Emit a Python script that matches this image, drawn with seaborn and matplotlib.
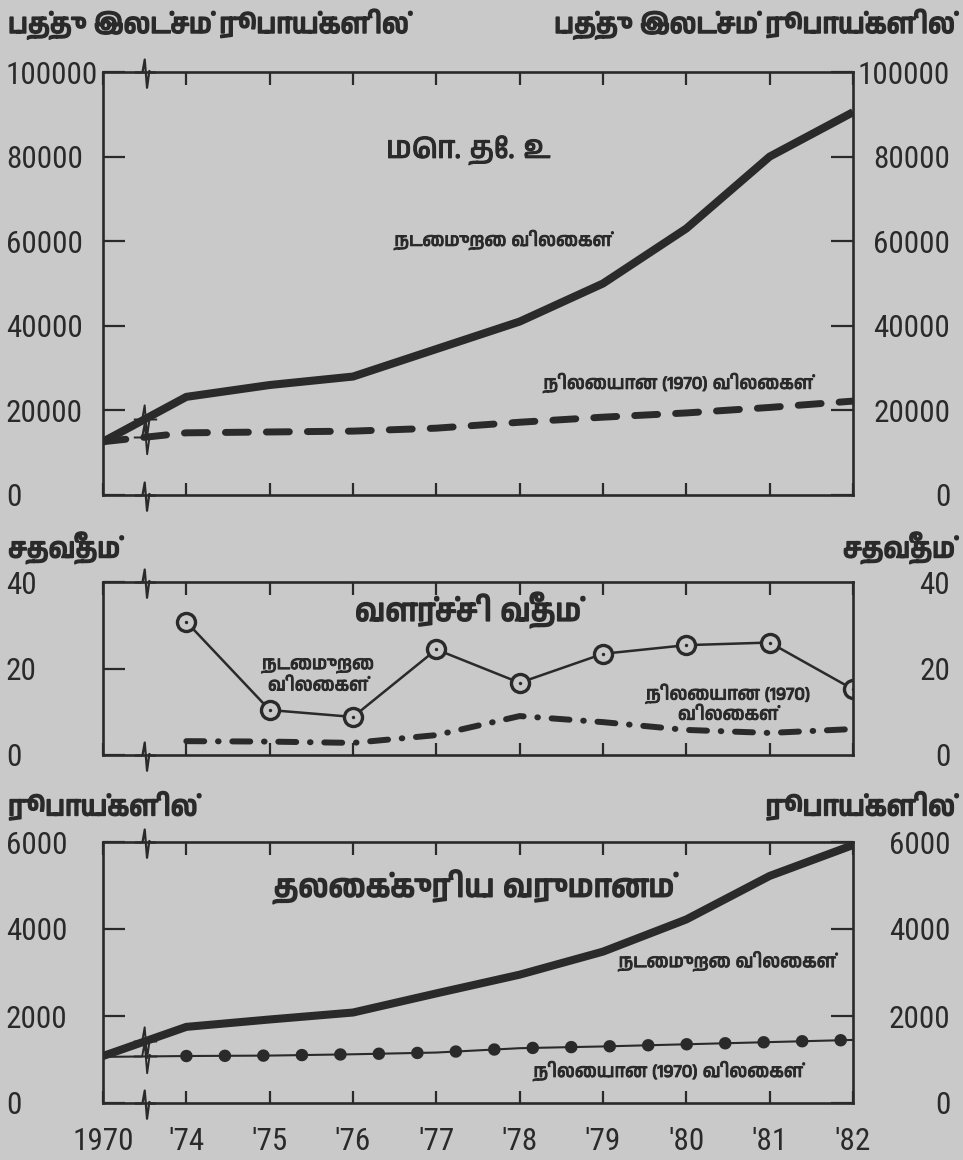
import numpy as np
import pandas as pd
import matplotlib
matplotlib.use("Agg")
import matplotlib.pyplot as plt
import matplotlib.transforms as mtransforms
import matplotlib.patheffects as pe
from matplotlib import font_manager as fm
from matplotlib.font_manager import FontProperties
from matplotlib.textpath import TextPath
from matplotlib.ft2font import FT2Font
from matplotlib.path import Path
from matplotlib.markers import MarkerStyle
import seaborn as sns

# ---------------- data ----------------
positions = list(range(10))
year_labels = ["1970", "'74", "'75", "'76", "'77", "'78", "'79", "'80", "'81", "'82"]

gdp_current = [12600, 23200, 26000, 28000, 34500, 41000, 50000, 63000, 80000, 90500]
gdp_constant = [12600, 14700, 14900, 15100, 15800, 17200, 18400, 19400, 20700, 22200]

growth_positions = list(range(1, 10))
growth_current = [30.8, 10.4, 8.8, 24.4, 16.7, 23.4, 25.4, 26.0, 15.2]
growth_constant = [3.2, 3.1, 2.8, 4.6, 9.0, 7.6, 5.8, 5.1, 6.0]

percap_current = [1080, 1750, 1920, 2080, 2520, 2950, 3480, 4220, 5220, 5930]
percap_constant = [1060, 1080, 1090, 1120, 1160, 1260, 1300, 1350, 1400, 1450]

gdp_ticks = [0, 20000, 40000, 60000, 80000, 100000]
growth_ticks = [0, 20, 40]
percap_ticks = [0, 2000, 4000, 6000]

# ---------------- text ----------------
unit_gdp = "பத்து இலட்சம் ரூபாய்களில்"
unit_pct = "சதவீதம்"
unit_rs = "ரூபாய்களில்"
title_gdp = "மொ. தே. உ"
title_growth = "வளர்ச்சி வீதம்"
title_percap = "தலைக்குரிய வருமானம்"
lbl_current = "நடைமுறை விலைகள்"
lbl_constant = "நிலையான (1970) விலைகள்"
lbl_current2 = "நடைமுறை\nவிலைகள்"
lbl_constant2 = "நிலையான (1970)\nவிலைகள்"

# ---------------- style ----------------
sns.set_theme(style="white")
BG = "#c9c9c9"
INK = "#2a2a2a"
HEAVY = [pe.withStroke(linewidth=1.3, foreground=INK)]
SEMI = [pe.withStroke(linewidth=0.7, foreground=INK)]


def find_family(codepoint, prefer=("Tamil",)):
    found = []
    for f in fm.fontManager.ttflist:
        try:
            cmap = FT2Font(f.fname).get_charmap()
        except Exception:
            continue
        if codepoint in cmap:
            found.append(f.name)
    if not found:
        return None
    for p in prefer:
        for n in found:
            if p in n:
                return n
    return found[0]


def narrow_digits_font():
    """Pick the installed latin sans font whose digits are the most condensed."""
    best = None
    for f in fm.fontManager.ttflist:
        n = f.name
        if not any(k in n for k in ("DejaVu", "Liberation", "Noto Sans", "Roboto",
                                    "Open Sans", "Lato", "Inter")):
            continue
        if any(k in n for k in ("CJK", "Mono", "Serif", "Tamil", "Math", "Symbol")):
            continue
        if f.style != "normal":
            continue
        try:
            w = int(f.weight)
        except Exception:
            w = 400
        if w < 400 or w > 600:
            continue
        try:
            fp = FontProperties(fname=f.fname)
            ext = TextPath((0, 0), "100000", size=100, prop=fp).get_extents()
            h = TextPath((0, 0), "0", size=100, prop=fp).get_extents().height
        except Exception:
            continue
        ratio = ext.width / h
        if best is None or ratio < best[0]:
            best = (ratio, f.fname, ext.width)
    return best


tamil = find_family(0x0BA4)
TAM = [tamil, "DejaVu Sans"] if tamil else ["DejaVu Sans"]
plt.rcParams["font.family"] = TAM

nb = narrow_digits_font()
if nb is not None:
    NUMFP = FontProperties(fname=nb[1])
    NUMSIZE = min(100 * 88 / nb[2] * 0.72, 25)
else:
    NUMFP = FontProperties(family="DejaVu Sans")
    NUMSIZE = 17
NUMFP.set_size(NUMSIZE)

W, H = 963, 1160
fig = plt.figure(figsize=(W / 100, H / 100), dpi=100, facecolor=BG)

L, R = 103, 853


def add_panel(top, bottom):
    return fig.add_axes([L / W, 1 - bottom / H, (R - L) / W, (bottom - top) / H])


ax1 = add_panel(72, 495)
ax2 = add_panel(582, 755)
ax3 = add_panel(842, 1103)

# break marker (zig-zag)
zz = Path([(-0.7, 0), (-0.2, 0), (-0.05, 0.85), (0.1, -1.0), (0.25, 0.1), (0.35, 0), (0.7, 0)])
zz_marker = MarkerStyle(zz, fillstyle="none")


def setup(ax, ticks, right_ticks=True, xlabels=False):
    ax.set_facecolor(BG)
    ax.set_xlim(0, 9)
    ax.set_ylim(ticks[0], ticks[-1])
    for s in ax.spines.values():
        s.set_visible(True)
        s.set_color(INK)
        s.set_linewidth(1.9)
    ax.set_xticks(positions)
    ax.set_xticklabels(year_labels, fontproperties=NUMFP, color=INK)
    ax.tick_params(axis="x", direction="in", length=9, width=1.6, color=INK,
                   top=True, bottom=True, labelbottom=xlabels, pad=17)
    ax.set_yticks(ticks)
    ax.set_yticklabels([str(t) for t in ticks], fontproperties=NUMFP, color=INK)
    ax.tick_params(axis="y", direction="in", length=16, width=1.6, color=INK,
                   left=True, right=right_ticks, labelleft=True, labelright=True, pad=70)
    for t in ax.yaxis.get_major_ticks():
        t.label1.set_horizontalalignment("left")
        t.label2.set_horizontalalignment("right")
        t.label2.set_fontproperties(NUMFP)
        t.label1.set_fontproperties(NUMFP)
    ax.set_xlabel("")
    ax.set_ylabel("")
    ax.grid(False)
    bt = mtransforms.blended_transform_factory(ax.transData, ax.transAxes)
    for yy in (0, 1):
        ax.plot([0.5], [yy], marker=zz_marker, markersize=22, markeredgewidth=1.6,
                color=INK, transform=bt, clip_on=False, zorder=6)


def line_break(ax, xs, ys):
    ax.plot([0.5], [np.interp(0.5, xs, ys)], marker=zz_marker, markersize=24,
            markeredgewidth=1.4, color=INK, zorder=6, clip_on=False)


# ---------------- panel 1 : GDP ----------------
setup(ax1, gdp_ticks)
sns.lineplot(x=positions, y=gdp_current, ax=ax1, color=INK, linewidth=5.8,
             solid_capstyle="butt")
sns.lineplot(x=positions, y=gdp_constant, ax=ax1, color=INK, linewidth=5.0,
             linestyle=(0, (3.3, 2.6)), dash_capstyle="round")
line_break(ax1, positions, gdp_current)
line_break(ax1, positions, gdp_constant)
ax1.text(4.38, 81500, title_gdp, ha="center", va="center", fontsize=22, color=INK,
         path_effects=SEMI)
ax1.text(4.8, 60300, lbl_current, ha="center", va="center", fontsize=13, color=INK,
         path_effects=SEMI)
ax1.text(6.9, 26500, lbl_constant, ha="center", va="center", fontsize=13, color=INK,
         path_effects=SEMI)

# ---------------- panel 2 : growth ----------------
setup(ax2, growth_ticks, right_ticks=False)
sns.lineplot(x=growth_positions, y=growth_constant, ax=ax2, color=INK, linewidth=4.3,
             linestyle=(0, (3.0, 2.3, 0.1, 2.3)), dash_capstyle="round")
sns.lineplot(x=growth_positions, y=growth_current, ax=ax2, color=INK, linewidth=1.8,
             marker="o", markersize=13, markerfacecolor=BG, markeredgecolor=INK,
             markeredgewidth=2.4)
sns.scatterplot(x=growth_positions, y=growth_current, ax=ax2, color=INK, s=6,
                linewidth=0, zorder=5)
ax2.text(4.38, 33.5, title_growth, ha="center", va="center", fontsize=22,
         color=INK, path_effects=HEAVY)
ax2.text(2.58, 18.3, lbl_current2, ha="center", va="center", fontsize=13,
         color=INK, linespacing=1.3, path_effects=SEMI)
ax2.text(7.5, 12.0, lbl_constant2, ha="center", va="center", fontsize=13,
         color=INK, linespacing=1.2, path_effects=SEMI)

# ---------------- panel 3 : per capita ----------------
setup(ax3, percap_ticks, xlabels=True)
sns.lineplot(x=positions, y=percap_current, ax=ax3, color=INK, linewidth=5.8,
             solid_capstyle="butt")
sns.lineplot(x=positions, y=percap_constant, ax=ax3, color=INK, linewidth=1.5)
sns.lineplot(x=positions[1:], y=percap_constant[1:], ax=ax3, color=INK, linewidth=9,
             linestyle=(0, (0.01, 3.07)), dash_capstyle="round")
line_break(ax3, positions, percap_current)
line_break(ax3, positions, percap_constant)
ax3.text(4.45, 4970, title_percap, ha="center", va="center", fontsize=22,
         color=INK, path_effects=HEAVY)
ax3.text(7.49, 3260, lbl_current, ha="center", va="center", fontsize=13,
         color=INK, path_effects=SEMI)
ax3.text(6.78, 735, lbl_constant, ha="center", va="center", fontsize=13,
         color=INK, path_effects=SEMI)


# ---------------- unit headers ----------------
def header(txt, ypix):
    fig.text(8 / W, 1 - ypix / H, txt, ha="left", va="center", fontsize=19.5,
             color=INK, path_effects=HEAVY)
    fig.text(955 / W, 1 - ypix / H, txt, ha="right", va="center", fontsize=19.5,
             color=INK, path_effects=HEAVY)


header(unit_gdp, 24)
header(unit_pct, 548)
header(unit_rs, 806)

fig.savefig("out.png", dpi=100, facecolor=BG)
